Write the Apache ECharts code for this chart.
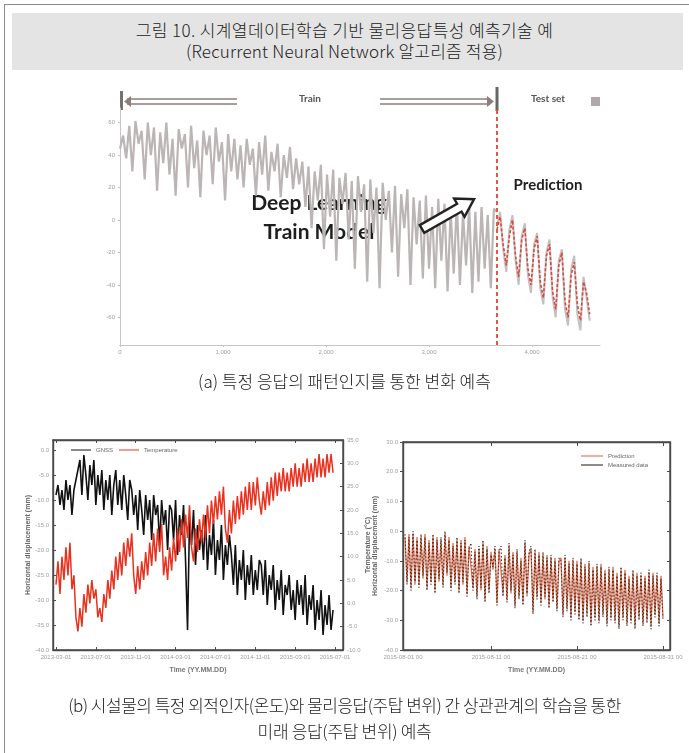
<!DOCTYPE html>
<html>
<head>
<meta charset="utf-8">
<script src="https://cdn.jsdelivr.net/npm/echarts@6/dist/echarts.min.js"></script>
<style>
  html, body { margin: 0; padding: 0; background: #fff; }
  body { width: 689px; height: 753px; position: relative; overflow: hidden;
         font-family: "Noto Sans CJK KR", sans-serif; }
  #frame { position: absolute; left: 4px; top: 4px; width: 720px; height: 800px;
           border-left: 1px solid #8c8c8c; border-top: 1px solid #8c8c8c; }
  #band { position: absolute; left: 12px; top: 13px; width: 671px; height: 57px; background: #e4e4e4; }
  .t { position: absolute; left: 0; width: 689px; text-align: center; color: #222;
       font-size: 17px; line-height: 22px; font-weight: 300; white-space: nowrap; }
  #chart { position: absolute; left: 0; top: 0; width: 689px; height: 753px; filter: blur(0.5px); }
</style>
</head>
<body>
<div id="frame"></div>
<div id="band"></div>
<div class="t" style="top:19px; letter-spacing:0.4px">그림 10. 시계열데이터학습 기반 물리응답특성 예측기술 예</div>
<div class="t" style="top:40px; letter-spacing:0.2px">(Recurrent Neural Network 알고리즘 적용)</div>
<div id="chart"></div>
<div class="t" style="top:370px">(a) 특정 응답의 패턴인지를 통한 변화 예측</div>
<div class="t" style="top:694px; letter-spacing:-0.5px">(b) 시설물의 특정 외적인자(온도)와 물리응답(주탑 변위) 간 상관관계의 학습을 통한</div>
<div class="t" style="top:720px; letter-spacing:-0.3px">미래 응답(주탑 변위) 예측</div>

<script>
// ---------- (a) pattern recognition: training record + test-set prediction ----------
const aStep = 30;               // sample spacing on the time axis
const aSplit = 3660;            // boundary between train and test set
const aXTicks = [0, 1000, 2000, 3000, 4000];
const aYTicks = [-60, -40, -20, 0, 20, 40, 60];
const aTrain = [
  44, 52, 38, 58, 30, 61, 47, 55, 25, 60, 40, 57, 18, 54, 35, 60, 28, 50, 15, 56,
  44, 53, 20, 58, 32, 49, 14, 55, 40, 52, 22, 57, 36, 48, 12, 53, 30, 50, 25,
  46, 20, 50, 34, 44, 15, 48, 28, 52, 18, 42, 30, 47, 14, 40, 26, 45, 19, 38, 22,
  36, 8, 33, -5, 30, 12, 34, -18, 28, 2, 31, -25, 26, 10, 29, -12, 24, -30, 27, 5,
  22, -38, 25, -8, 20, -42, 23, 0, 18, -20, 21, -35, 16, -5, 19, -40, 14, -15,
  12, -36, 15, -30, 8, -42, 13, -25, 10, -44, 6, -33, 11, -40, 4, -28, 9, -45, 5,
  -38, 8, -30, 3, -42, 7, 5
];
const aTestMeasured = [
  -4, 5, -18, -32, -6, 3, -25, -40, -10, -2, -34, -45, -15, -8, -42, -52, -20, -12,
  -48, -60, -25, -18, -55, -65, -30, -22, -58, -68, -35, -48, -62
];
const aTestPredicted = [
  -6, 2, -15, -28, -10, 0, -22, -35, -12, -5, -30, -40, -18, -10, -38, -48, -22, -15,
  -44, -55, -28, -20, -50, -60, -34, -26, -52, -62, -38, -45, -58
];

// ---------- (b-left) GNSS displacement vs. temperature ----------
const blXTickPos = [0, 20, 40, 60, 80, 100, 120, 140];
const blXTickLabels = ['2013-03-01', '2013-07-01', '2013-11-01', '2014-03-01',
                       '2014-07-01', '2014-11-01', '2015-03-01', '2015-07-01'];
const blGnss = [
  -9, -7, -11, -8, -12, -6, -10, -7, -13, -8, -6,
  -4, -2, -9, -1, -5, -10, -3, -7, -2, -11,
  -5, -9, -4, -12, -6, -10, -5, -13, -7, -4, -11, -6, -12, -5, -9, -14, -6,
  -8, -13, -9, -16, -8, -12, -17, -9, -14, -10, -18, -9, -13, -11, -19, -10, -15, -12, -20, -11,
  -12, -18, -10, -21, -13, -17, -11, -22, -36, -14, -19, -12, -23, -15, -20,
  -16, -22, -13, -24, -17, -21, -14, -25, -18, -22, -15, -26, -19, -23, -17,
  -21, -27, -19, -29, -22, -26, -20, -30, -23, -27, -21, -29, -24, -28, -22,
  -23, -29, -22, -31, -25, -28, -23, -32, -26, -30, -24, -33, -27, -29, -25, -32, -28, -34, -26, -31,
  -27, -33, -25, -35, -29, -32, -27, -36, -30, -34, -28, -37, -31, -35, -29, -36, -32
];
const blTemperature = [
  4, 9, 2, 10, 5, 12, 6, 13, 3, 6,
  -3, -6, -1, -5, 2, -2, 4, 0, 5, 1,
  3, -3, -1, -4, 2, -1, 5, 1, 7, 3,
  10, 5, 11, 6, 13, 8, 14, 10, 15, 6,
  2, 8, 3, 9, 5, 11, 6, 13, 8, 15,
  9, 16, 11, 17, 6, 10, 5, 12, 7, 14,
  9, 16, 11, 18, 12, 19, 14, 21, 12, 9,
  16, 11, 18, 13, 19, 14, 21, 15, 22, 17,
  23, 18, 24, 19, 25, 16, 13, 20, 15, 22,
  17, 23, 18, 24, 19, 25, 20, 26, 20, 26,
  21, 27, 22, 19, 24, 20, 26, 21, 27, 22,
  28, 23, 28, 24, 29, 24, 28, 24, 29, 25,
  30, 25, 29, 25, 30, 26, 31, 26, 30, 26,
  31, 27, 32, 27, 31, 27, 32, 28, 32, 28
];

// ---------- (b-right) predicted vs. measured tower displacement ----------
const brXTickPos = [0, 44, 87, 130];
const brXTickLabels = ['2015-08-01 00', '2015-08-11 00', '2015-08-21 00', '2015-08-31 00'];
const brMeasured = [
  -1, -18, -2, -20, 0, -17, -3, -19, -1, -15, -2, -20, -4, -18, -1, -21, -3, -16, -2, -19,
  0, -14, -3, -20, -5, -18, -2, -21, -4, -17, -3, -22, -6,
  -4, -20, -7, -23, -5, -19, -3, -24, -6, -21, -8, -12, -5, -25, -7,
  -5, -22, -9, -24, -4, -20, -8, -26, -6, -23, -10, -25, -3, -21, -7,
  -5, -28, -6, -23, -8, -25, -7, -22, -9, -26, -8, -24, -10, -27, -9,
  -10, -29, -8, -27, -11, -30, -9, -28,
  -11, -30, -9, -31, -12, -29, -10, -32, -13, -30, -11, -31, -12, -29, -14, -32, -12, -30,
  -13, -31, -15, -33, -12, -30, -14, -32, -16, -31, -13, -33, -15, -30, -14, -32, -16, -31,
  -13, -33, -15, -29, -14, -32, -16, -30
];
const brPredicted = [
  -2, -17, -1, -19, -1, -18, -2, -18, -2, -16, -1, -19, -3, -17, -2, -20, -2, -17, -3, -18,
  -1, -15, -2, -19, -4, -17, -3, -20, -3, -18, -2, -21, -5,
  -5, -19, -6, -22, -6, -20, -4, -23, -5, -20, -7, -13, -6, -24, -6,
  -6, -21, -8, -23, -5, -21, -7, -25, -7, -22, -9, -24, -4, -22, -8,
  -6, -27, -7, -22, -7, -24, -8, -23, -8, -25, -9, -23, -9, -26, -10,
  -9, -28, -9, -26, -10, -29, -10, -27,
  -10, -29, -10, -30, -11, -28, -11, -31, -12, -29, -12, -30, -11, -28, -13, -31, -13, -29,
  -12, -30, -14, -32, -13, -29, -13, -31, -15, -30, -14, -32, -14, -29, -15, -31, -15, -30,
  -14, -32, -14, -28, -15, -31, -15, -29
];

// pair helpers: regular sampling along the time axis
const withX = (arr, x0, dx) => arr.map((v, i) => [x0 + i * dx, v]);

const tickFont = { fontSize: 6, color: '#a0a0a0', fontFamily: 'Liberation Sans' };
const frameAxis = (c) => ({ show: true, onZero: false, lineStyle: { color: c, width: 1.4 } });
const lightAxis = { show: true, onZero: false, lineStyle: { color: '#cbc3c3' } };
const labelFrom = (pos, labels) => (v) => { const k = pos.indexOf(v); return k < 0 ? '' : labels[k]; };

const chart = echarts.init(document.getElementById('chart'), null, { renderer: 'canvas' });

// hollow arrow pointing from the training data towards the prediction
const arrowPts = [[0, -4.5], [43, -4.5], [43, -10.5], [60, 0], [43, 10.5], [43, 4.5], [0, 4.5]];

chart.setOption({
  animation: false,
  grid: [
    { left: 120, top: 108, width: 480, height: 237 },
    { left: 53, top: 440, width: 290, height: 210, show: true, borderColor: '#4a4a4a', borderWidth: 1.4 },
    { left: 403, top: 442, width: 267, height: 208, show: true, borderColor: '#4a4a4a', borderWidth: 1.4 }
  ],
  legend: [
    { data: ['GNSS', 'Temperature'], left: 66, top: 442, itemWidth: 20, itemHeight: 6, itemGap: 6,
      textStyle: { fontSize: 6, color: '#666' }, icon: 'path://M0,0H20V1H0Z' },
    { data: ['Prediction', 'Measured data'], orient: 'vertical', left: 576, top: 448, itemWidth: 22, itemHeight: 6, itemGap: 3,
      textStyle: { fontSize: 6, color: '#666' }, icon: 'path://M0,0H20V1H0Z' }
  ],
  xAxis: [
    { gridIndex: 0, type: 'value', min: 0, max: 4660, interval: 1000,
      axisLine: lightAxis, axisTick: { length: 2, lineStyle: { color: '#cbc3c3' } },
      axisLabel: Object.assign({ margin: 4, showMaxLabel: false }, tickFont), splitLine: { show: false } },
    { gridIndex: 1, type: 'value', min: -1.5, max: 144, name: 'Time (YY.MM.DD)', nameLocation: 'middle', nameGap: 17,
      nameTextStyle: { fontSize: 7, color: '#777', fontWeight: 'bold' },
      axisLine: frameAxis('#4a4a4a'), axisTick: { inside: true, length: 3, customValues: blXTickPos },
      axisLabel: Object.assign({ margin: 4, customValues: blXTickPos, formatter: labelFrom(blXTickPos, blXTickLabels) }, tickFont),
      splitLine: { show: false } },
    { gridIndex: 1, type: 'value', position: 'top', min: -1.5, max: 144,
      axisLine: frameAxis('#4a4a4a'), axisTick: { inside: true, length: 3, customValues: blXTickPos },
      axisLabel: { show: false }, splitLine: { show: false } },
    { gridIndex: 2, type: 'value', min: 0, max: 133.5, name: 'Time (YY.MM.DD)', nameLocation: 'middle', nameGap: 17,
      nameTextStyle: { fontSize: 7, color: '#777', fontWeight: 'bold' },
      axisLine: frameAxis('#4a4a4a'), axisTick: { inside: true, length: 4, customValues: brXTickPos },
      axisLabel: Object.assign({ margin: 4, customValues: brXTickPos, formatter: labelFrom(brXTickPos, brXTickLabels) }, tickFont),
      splitLine: { show: false } },
    { gridIndex: 2, type: 'value', position: 'top', min: 0, max: 133.5,
      axisLine: frameAxis('#4a4a4a'), axisTick: { inside: true, length: 4, customValues: brXTickPos },
      axisLabel: { show: false }, splitLine: { show: false } }
  ],
  yAxis: [
    { gridIndex: 0, type: 'value', min: -77, max: 69,
      axisLine: lightAxis,
      axisTick: { show: true, length: 2, customValues: aYTicks, lineStyle: { color: '#cbc3c3' } },
      axisLabel: Object.assign({ margin: 5, customValues: aYTicks }, tickFont), splitLine: { show: false } },
    { gridIndex: 1, type: 'value', min: -40, max: 2, interval: 5, name: 'Horizontal displacement (mm)',
      nameLocation: 'middle', nameGap: 19, nameTextStyle: { fontSize: 7, color: '#666', fontWeight: 'bold' },
      axisLine: frameAxis('#4a4a4a'), axisTick: { inside: true, length: 3 },
      axisLabel: Object.assign({ margin: 4, showMaxLabel: false, formatter: (v) => v.toFixed(1) }, tickFont),
      splitLine: { show: false } },
    { gridIndex: 1, type: 'value', position: 'right', min: -10, max: 35, interval: 5, name: 'Temperature (°C)',
      nameLocation: 'middle', nameGap: 18, nameTextStyle: { fontSize: 7, color: '#666', fontWeight: 'bold' },
      axisLine: frameAxis('#4a4a4a'), axisTick: { inside: true, length: 3 },
      axisLabel: Object.assign({ margin: 4, formatter: (v) => v.toFixed(1) }, tickFont),
      splitLine: { show: false } },
    { gridIndex: 2, type: 'value', min: -40, max: 30, interval: 10, name: 'Horizontal displacement (mm)',
      nameLocation: 'middle', nameGap: 24, nameTextStyle: { fontSize: 7, color: '#666', fontWeight: 'bold' },
      axisLine: frameAxis('#4a4a4a'), axisTick: { inside: false, length: 3 },
      axisLabel: Object.assign({ margin: 5, formatter: (v) => v.toFixed(1) }, tickFont),
      splitLine: { show: false } },
    { gridIndex: 2, type: 'value', position: 'right', min: -40, max: 30, interval: 10,
      axisLine: frameAxis('#4a4a4a'), axisTick: { inside: true, length: 3 },
      axisLabel: { show: false }, splitLine: { show: false } }
  ],
  series: [
    { name: 'Train', type: 'line', xAxisIndex: 0, yAxisIndex: 0, data: withX(aTrain, 0, aStep),
      symbol: 'none', lineStyle: { color: '#bcb5b5', width: 2.2 }, z: 2,
      markLine: { symbol: 'none', silent: true, label: { show: false },
                  lineStyle: { color: '#e0584a', type: [4, 3], width: 2 }, data: [{ xAxis: aSplit }] } },
    { name: 'Test measured', type: 'line', xAxisIndex: 0, yAxisIndex: 0, data: withX(aTestMeasured, aSplit, aStep),
      symbol: 'none', lineStyle: { color: '#c3c0c0', width: 2 }, z: 2 },
    { name: 'Test prediction', type: 'line', xAxisIndex: 0, yAxisIndex: 0, data: withX(aTestPredicted, aSplit, aStep),
      symbol: 'none', lineStyle: { color: '#d9493f', width: 1.6, type: [3, 2] }, z: 3 },
    { name: 'GNSS', type: 'line', xAxisIndex: 1, yAxisIndex: 1, data: withX(blGnss, 0, 1),
      symbol: 'none', itemStyle: { color: '#111' }, lineStyle: { color: '#111', width: 1.6 }, z: 2 },
    { name: 'Temperature', type: 'line', xAxisIndex: 1, yAxisIndex: 2, data: withX(blTemperature, 0, 1),
      symbol: 'none', itemStyle: { color: '#e8321e' }, lineStyle: { color: '#e8321e', width: 1.5 }, z: 3 },
    { name: 'Prediction', type: 'line', xAxisIndex: 3, yAxisIndex: 3, data: withX(brPredicted, 1, 1),
      symbol: 'none', itemStyle: { color: '#e2704f' }, lineStyle: { color: '#e2704f', width: 1.3 }, z: 2 },
    { name: 'Measured data', type: 'line', xAxisIndex: 3, yAxisIndex: 3, data: withX(brMeasured, 1, 1),
      symbol: 'none', itemStyle: { color: '#3a2a26' }, lineStyle: { color: '#3a2a26', width: 1, type: [1.5, 2] }, z: 3 }
  ],
  graphic: [
    // train / test-set span markers along the top of panel (a)
    { type: 'rect', shape: { x: 120, y: 91, width: 3, height: 19 }, style: { fill: '#7a7070' } },
    { type: 'line', shape: { x1: 127, y1: 99, x2: 237, y2: 99 }, style: { stroke: '#8d7e7c', lineWidth: 1.5 } },
    { type: 'line', shape: { x1: 127, y1: 104, x2: 237, y2: 104 }, style: { stroke: '#8d7e7c', lineWidth: 1.5 } },
    { type: 'line', shape: { x1: 380, y1: 99, x2: 490, y2: 99 }, style: { stroke: '#8d7e7c', lineWidth: 1.5 } },
    { type: 'line', shape: { x1: 380, y1: 104, x2: 490, y2: 104 }, style: { stroke: '#8d7e7c', lineWidth: 1.5 } },
    { type: 'polygon', shape: { points: [[124, 101.5], [131, 96], [131, 107]] }, style: { fill: '#8d7e7c' } },
    { type: 'polygon', shape: { points: [[494, 101.5], [487, 96], [487, 107]] }, style: { fill: '#8d7e7c' } },
    { type: 'text', style: { text: 'Train', x: 310, y: 99, align: 'center', verticalAlign: 'middle',
                             font: 'bold 10px Lato', fill: '#555' } },
    { type: 'rect', shape: { x: 495.5, y: 87, width: 3, height: 24 }, style: { fill: '#666' } },
    { type: 'text', style: { text: 'Test set', x: 548, y: 99, align: 'center', verticalAlign: 'middle',
                             font: 'bold 10px Lato', fill: '#555' } },
    { type: 'rect', shape: { x: 591, y: 97, width: 9, height: 9 }, style: { fill: '#b0a8a8' } },
    // annotations
    { type: 'text', style: { text: 'Deep Learning', x: 319, y: 203, align: 'center', verticalAlign: 'middle',
                             font: 'bold 21px Lato', fill: '#1e1e1e' } },
    { type: 'text', style: { text: 'Train Model', x: 319, y: 232, align: 'center', verticalAlign: 'middle',
                             font: 'bold 21px Lato', fill: '#1e1e1e' } },
    { type: 'text', style: { text: 'Prediction', x: 548, y: 185, align: 'center', verticalAlign: 'middle',
                             font: 'bold 15px Lato', fill: '#1e1e1e' } },
    { type: 'polygon', x: 422, y: 229, rotation: 0.52, shape: { points: arrowPts },
      style: { fill: '#fff', stroke: '#222', lineWidth: 2.4 }, z: 100 }
  ]
});
</script>
</body>
</html>
